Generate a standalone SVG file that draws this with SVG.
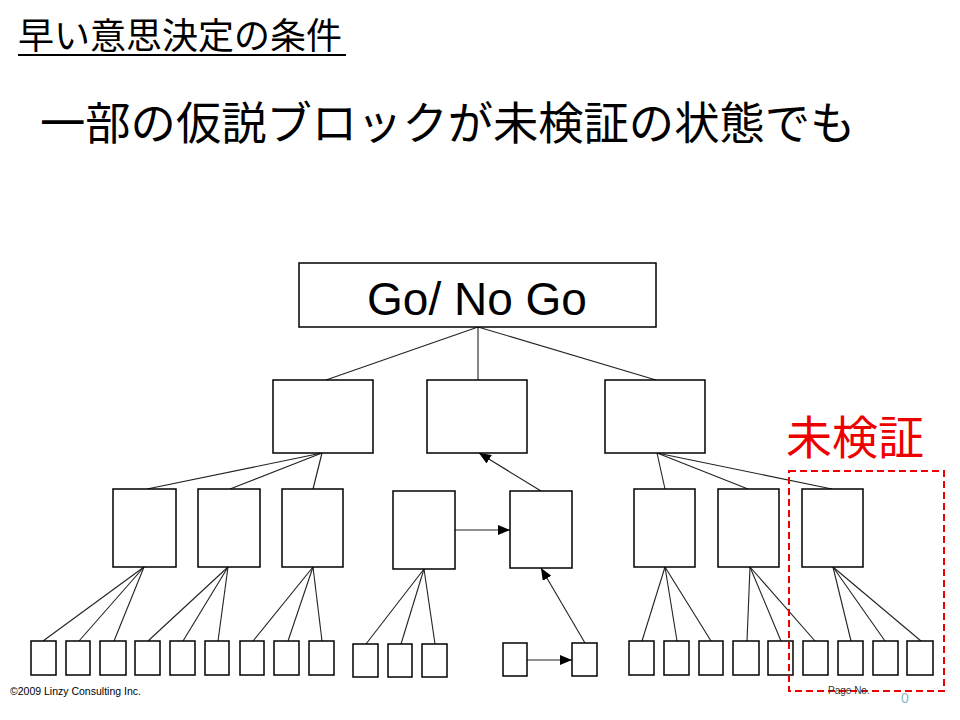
<svg xmlns="http://www.w3.org/2000/svg" width="960" height="720" viewBox="0 0 960 720">
<style>
.box{fill:#fff;stroke:#000;stroke-width:1.5}
.ln{stroke:#222;stroke-width:1.1;fill:none}
.jp{font-family:"Noto Sans CJK JP","Noto Sans",sans-serif}
.lat{font-family:"Liberation Sans",Arial,sans-serif}
</style>
<defs>
<marker id="ah" markerWidth="12" markerHeight="10" refX="12" refY="5" orient="auto" markerUnits="userSpaceOnUse">
<path d="M0,0 L12,5 L0,10 Z" fill="#000"/>
</marker>
</defs>
<rect width="960" height="720" fill="#fff"/>
<g id="title">
<text class="jp" x="18" y="49" font-size="36" fill="#000">早い意思決定の条件</text>
<line x1="18" y1="55" x2="346" y2="55" stroke="#000" stroke-width="2"/>
</g>
<g id="heading">
<text class="jp" x="40" y="140" font-size="45.3" fill="#000">一部の仮説ブロックが未検証の状態でも</text>
</g>
<g id="connectors">
<line class="ln" x1="478" y1="327" x2="326" y2="380"/>
<line class="ln" x1="478" y1="327" x2="478" y2="380"/>
<line class="ln" x1="478" y1="327" x2="656" y2="380"/>
<line class="ln" x1="322" y1="453" x2="147" y2="489"/>
<line class="ln" x1="322" y1="453" x2="230" y2="489"/>
<line class="ln" x1="322" y1="453" x2="313" y2="489"/>
<line class="ln" x1="657" y1="453" x2="665" y2="489"/>
<line class="ln" x1="657" y1="453" x2="748" y2="489"/>
<line class="ln" x1="657" y1="453" x2="832" y2="489"/>
<line class="ln" x1="541" y1="491" x2="479" y2="453" marker-end="url(#ah)"/>
<line class="ln" x1="455" y1="530" x2="510" y2="530" marker-end="url(#ah)"/>
<line class="ln" x1="527" y1="660" x2="572" y2="660" marker-end="url(#ah)"/>
<line class="ln" x1="585" y1="643" x2="541" y2="568" marker-end="url(#ah)"/>
<line class="ln" x1="144" y1="567" x2="43" y2="641"/>
<line class="ln" x1="144" y1="567" x2="79" y2="641"/>
<line class="ln" x1="144" y1="567" x2="114" y2="641"/>
<line class="ln" x1="228" y1="567" x2="148" y2="641"/>
<line class="ln" x1="228" y1="567" x2="183" y2="641"/>
<line class="ln" x1="228" y1="567" x2="218" y2="641"/>
<line class="ln" x1="313" y1="567" x2="253" y2="641"/>
<line class="ln" x1="313" y1="567" x2="288" y2="641"/>
<line class="ln" x1="313" y1="567" x2="322" y2="641"/>
<line class="ln" x1="424" y1="569" x2="366" y2="644"/>
<line class="ln" x1="424" y1="569" x2="401" y2="644"/>
<line class="ln" x1="424" y1="569" x2="435" y2="644"/>
<line class="ln" x1="665" y1="567" x2="642" y2="641"/>
<line class="ln" x1="665" y1="567" x2="677" y2="641"/>
<line class="ln" x1="665" y1="567" x2="711" y2="641"/>
<line class="ln" x1="750" y1="567" x2="747" y2="641"/>
<line class="ln" x1="750" y1="567" x2="781" y2="641"/>
<line class="ln" x1="750" y1="567" x2="815" y2="641"/>
<line class="ln" x1="833" y1="567" x2="851" y2="641"/>
<line class="ln" x1="833" y1="567" x2="885" y2="641"/>
<line class="ln" x1="833" y1="567" x2="921" y2="641"/>
</g>
<g id="root">
<rect class="box" x="299" y="263" width="357" height="64"/>
<text class="lat" x="477" y="315" font-size="46" text-anchor="middle" fill="#000">Go/ No Go</text>
</g>
<g id="l2-left"><rect class="box" x="273" y="380" width="100" height="73"/></g>
<g id="l2-mid"><rect class="box" x="427" y="380" width="100" height="73"/></g>
<g id="l2-right"><rect class="box" x="605" y="380" width="100" height="73"/></g>
<g id="l3-1"><rect class="box" x="113" y="489" width="63" height="78"/></g>
<g id="l3-2"><rect class="box" x="198" y="489" width="62" height="78"/></g>
<g id="l3-3"><rect class="box" x="282" y="489" width="61" height="78"/></g>
<g id="l3-4"><rect class="box" x="393" y="491" width="62" height="78"/></g>
<g id="l3-5"><rect class="box" x="510" y="491" width="62" height="77"/></g>
<g id="l3-6"><rect class="box" x="634" y="489" width="61" height="78"/></g>
<g id="l3-7"><rect class="box" x="718" y="489" width="61" height="78"/></g>
<g id="l3-8"><rect class="box" x="802" y="489" width="61" height="78"/></g>
<g id="leaf-1"><rect class="box" x="31" y="641" width="25" height="34"/></g>
<g id="leaf-2"><rect class="box" x="66" y="641" width="24" height="34"/></g>
<g id="leaf-3"><rect class="box" x="100" y="641" width="26" height="34"/></g>
<g id="leaf-4"><rect class="box" x="135" y="641" width="25" height="34"/></g>
<g id="leaf-5"><rect class="box" x="170" y="641" width="25" height="34"/></g>
<g id="leaf-6"><rect class="box" x="205" y="641" width="24" height="34"/></g>
<g id="leaf-7"><rect class="box" x="240" y="641" width="24" height="34"/></g>
<g id="leaf-8"><rect class="box" x="274" y="641" width="25" height="34"/></g>
<g id="leaf-9"><rect class="box" x="309" y="641" width="25" height="34"/></g>
<g id="leaf-10"><rect class="box" x="353" y="644" width="25" height="33"/></g>
<g id="leaf-11"><rect class="box" x="388" y="644" width="24" height="33"/></g>
<g id="leaf-12"><rect class="box" x="422" y="644" width="25" height="33"/></g>
<g id="leaf-13"><rect class="box" x="503" y="643" width="24" height="33"/></g>
<g id="leaf-14"><rect class="box" x="572" y="643" width="25" height="33"/></g>
<g id="leaf-15"><rect class="box" x="629" y="641" width="25" height="34"/></g>
<g id="leaf-16"><rect class="box" x="664" y="641" width="25" height="34"/></g>
<g id="leaf-17"><rect class="box" x="699" y="641" width="24" height="34"/></g>
<g id="leaf-18"><rect class="box" x="733" y="641" width="26" height="34"/></g>
<g id="leaf-19"><rect class="box" x="768" y="641" width="25" height="34"/></g>
<g id="leaf-20"><rect class="box" x="803" y="641" width="25" height="34"/></g>
<g id="leaf-21"><rect class="box" x="838" y="641" width="25" height="34"/></g>
<g id="leaf-22"><rect class="box" x="873" y="641" width="25" height="34"/></g>
<g id="leaf-23"><rect class="box" x="907" y="641" width="26" height="34"/></g>
<g id="unverified">
<rect x="789" y="471" width="155" height="220" fill="none" stroke="#e00" stroke-width="2" stroke-dasharray="7,4"/>
<text class="jp" x="786" y="454" font-size="46" fill="#e00">未検証</text>
</g>
<g id="footer">
<text class="lat" x="10" y="695" font-size="10.5" fill="#000">©2009 Linzy Consulting Inc.</text>
<text class="lat" x="828" y="694" font-size="10" fill="#333">Page No.</text>
<text class="lat" x="901" y="703" font-size="14" fill="#8bc">0</text>
</g>
</svg>
